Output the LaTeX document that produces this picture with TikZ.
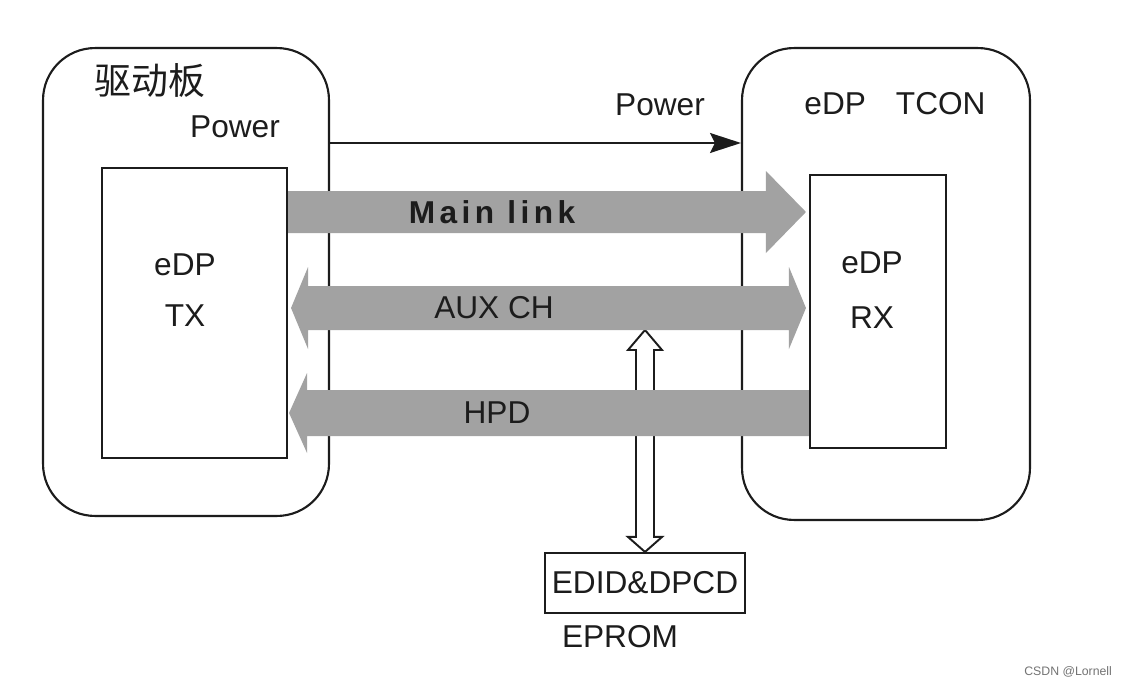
\documentclass[tikz,border=0pt]{standalone}
\usepackage{fontspec}
\setmainfont{Liberation Sans}
\newfontfamily\cjk{Noto Sans CJK SC}
\usetikzlibrary{arrows.meta,calc}
\definecolor{ink}{HTML}{1C1C1C}
\definecolor{bandgray}{HTML}{A2A2A2}
\begin{document}
\begin{tikzpicture}[x=0.02cm,y=-0.02cm,
  line width=1.2pt,
  every node/.style={font=\fontsize{18}{20}\selectfont, text=ink},
  outer/.style={draw=ink, rounded corners=1.04cm, inner sep=0pt},
  inbox/.style={draw=ink, inner sep=0pt},
  band/.style={fill=bandgray, draw=none},
  lbl/.style={inner sep=0pt},
  hollow/.style={draw=ink, fill=white, line width=1.1pt, line join=miter}]
\useasboundingbox (0,0) rectangle (1129,686);
\fill[white] (0,0) rectangle (1129,686);

% boxes
\node[outer, minimum width=5.72cm, minimum height=9.36cm] (drv) at (186,282) {};
\node[outer, minimum width=5.76cm, minimum height=9.44cm] (tcon) at (886,284) {};
\node[inbox, minimum width=3.7cm, minimum height=5.8cm] (tx) at (194.5,313) {};
\node[inbox, minimum width=2.72cm, minimum height=5.46cm] (rx) at (878,311.5) {};
\node[inbox, minimum width=4cm, minimum height=1.2cm] (edid) at (645,583) {EDID\&DPCD};

% power arrow
\coordinate (py) at (0,143);
\draw[draw=ink, -{Stealth[length=0.62cm,width=0.4cm,inset=0.1cm]}] (drv.east |- py) -- (tcon.west |- py);

% vertical hollow double arrow
\coordinate (vt) at (edid.north |- 0,330);
\coordinate (vb) at (edid.north);
\draw[hollow] (vt) -- ++(17,20) -- ++(-8,0) -- ($(vb)+(9,-15)$) -- ++(8,0) -- (vb)
  -- ++(-17,-15) -- ++(8,0) -- ($(vt)+(-9,20)$) -- ++(-8,0) -- cycle;

% bands
\coordinate (mlL) at (tx.east |- 0,212);
\coordinate (mlR) at ($(rx.west |- 0,212)+(-3,0)$);
\fill[band] ($(mlL)+(0,-21)$) -- ($(mlR)+(-40,-21)$) -- ++(0,-20) -- (mlR) -- ++(-40,41) -- ++(0,-20) -- ($(mlL)+(0,21)$) -- cycle;

\coordinate (auL) at ($(tx.east |- 0,308)+(3,0)$);
\coordinate (auR) at ($(rx.west |- 0,308)+(-3,0)$);
\fill[band] (auL) -- ++(17,-41) -- ++(0,19) -- ($(auR)+(-17,-22)$) -- ++(0,-19) -- (auR)
  -- ++(-17,41) -- ++(0,-19) -- ($(auL)+(17,22)$) -- ++(0,19) -- cycle;

\coordinate (hpL) at ($(tx.east |- 0,413)+(1,0)$);
\coordinate (hpR) at (rx.west |- 0,413);
\fill[band] (hpL) -- ++(18,-40) -- ++(0,17) -- ($(hpR)+(0,-23)$) -- ($(hpR)+(0,23)$)
  -- ($(hpL)+(18,23)$) -- ++(0,17) -- cycle;

% band labels
\node[lbl, font=\fontsize{18}{20}\selectfont\bfseries\addfontfeature{LetterSpace=14}] (mltext) at (492,212) {Main link};
\node[lbl] (autext) at (494,308) {AUX CH};
\node[lbl] (hptext) at (497,413) {HPD};

% other labels
\node[lbl, font=\cjk\fontsize{21}{24}\selectfont] (drvtext) at (150,81) {驱动板};
\node[lbl] (pw1) at (235,127) {Power};
\node[lbl] (pw2) at (660,105) {Power};
\node[lbl] (tcontext) at (895,104) {eDP\hspace{0.95em}TCON};
\node[lbl] (tx1) at (185,265) {eDP};
\node[lbl] (tx2) at (185,316) {TX};
\node[lbl] (rx1) at (872,263) {eDP};
\node[lbl] (rx2) at (872,318) {RX};
\node[lbl] (eprom) at (620,637) {EPROM};
\node[lbl, anchor=east, font=\fontsize{7}{8}\selectfont, text=black!55] (wm) at (1113,672) {CSDN @Lornell};
\end{tikzpicture}
\end{document}
